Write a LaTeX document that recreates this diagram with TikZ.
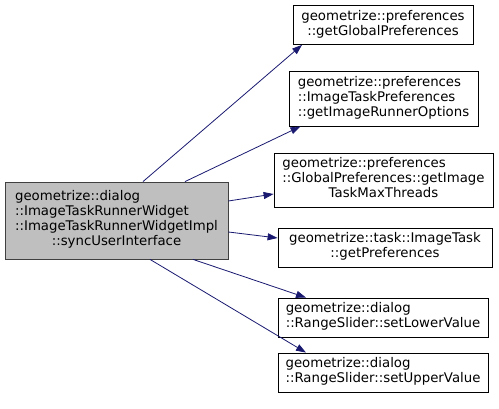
\documentclass[tikz,border=0pt]{standalone}
\usepackage{fontspec}
\setmainfont{DejaVu Sans}
\usepackage{tikz}
\usetikzlibrary{calc,arrows.meta}
\usetikzlibrary{positioning}
\definecolor{dg-edge}{HTML}{191970}
\definecolor{dg-fill}{HTML}{BFBFBF}
\definecolor{dg-frame}{HTML}{404040}

\tikzset{
    fnbox/.style={draw=black, fill=white, line width=0.8pt, inner sep=0pt,
        font=\fontsize{13.3}{15}\selectfont},
    mainbox/.style={fnbox, draw=dg-frame, fill=dg-fill},
    call/.style={dg-edge, line width=0.8pt, -{Triangle[length=10pt, width=7pt]}}
}
% lines left aligned, last line centred
\newcommand{\fnlabel}[2]{\begin{tabular}{@{}l@{}}#1\\\multicolumn{1}{@{}c@{}}{#2}\end{tabular}}

\begin{document}
\begin{tikzpicture}[x=1pt, y=-1pt]
    \useasboundingbox (0,0) rectangle (499,409);

    % Caller
    \node[mainbox, minimum width=223, minimum height=77] (sync) at (116.5, 220.5)
        {\fnlabel{geometrize::dialog\\::ImageTaskRunnerWidget\\::ImageTaskRunnerWidgetImpl}{::syncUserInterface}};

    % Callees
    \node[fnbox, minimum width=180, minimum height=39] (glob) at (383, 25)
        {\fnlabel{geometrize::preferences}{::getGlobalPreferences}};
    \node[fnbox, minimum width=189, minimum height=55] (runopt) at (383.5, 98.5)
        {\fnlabel{geometrize::preferences\\::ImageTaskPreferences}{::getImageRunnerOptions}};
    \node[fnbox, minimum width=219, minimum height=54] (maxthr) at (383.5, 180)
        {\fnlabel{geometrize::preferences\\::GlobalPreferences::getImage}{TaskMaxThreads}};
    \node[fnbox, minimum width=214, minimum height=39] (taskpref) at (385, 247.5)
        {\fnlabel{geometrize::task::ImageTask}{::getPreferences}};
    \node[fnbox, minimum width=210, minimum height=39] (lower) at (383, 317.5)
        {\fnlabel{geometrize::dialog}{::RangeSlider::setLowerValue}};
    \node[fnbox, minimum width=210, minimum height=39] (upper) at (383, 372.5)
        {\fnlabel{geometrize::dialog}{::RangeSlider::setUpperValue}};

    % Calls
    \draw[call] ([xshift=26.5]sync.north) -- ([xshift=-81]glob.south);
    \draw[call] ([xshift=68.5]sync.north) -- ([xshift=-83]runopt.south);
    \draw[call] ([yshift=19.5]sync.east) -- ([yshift=-14]maxthr.west);
    \draw[call] ([yshift=-11.5]sync.east) -- ([yshift=9.5]taskpref.west);
    \draw[call] ([xshift=76.5]sync.south) -- ([xshift=-77]lower.north);
    \draw[call] ([xshift=33.5]sync.south) -- ([xshift=-77]upper.north);
\end{tikzpicture}
\end{document}
